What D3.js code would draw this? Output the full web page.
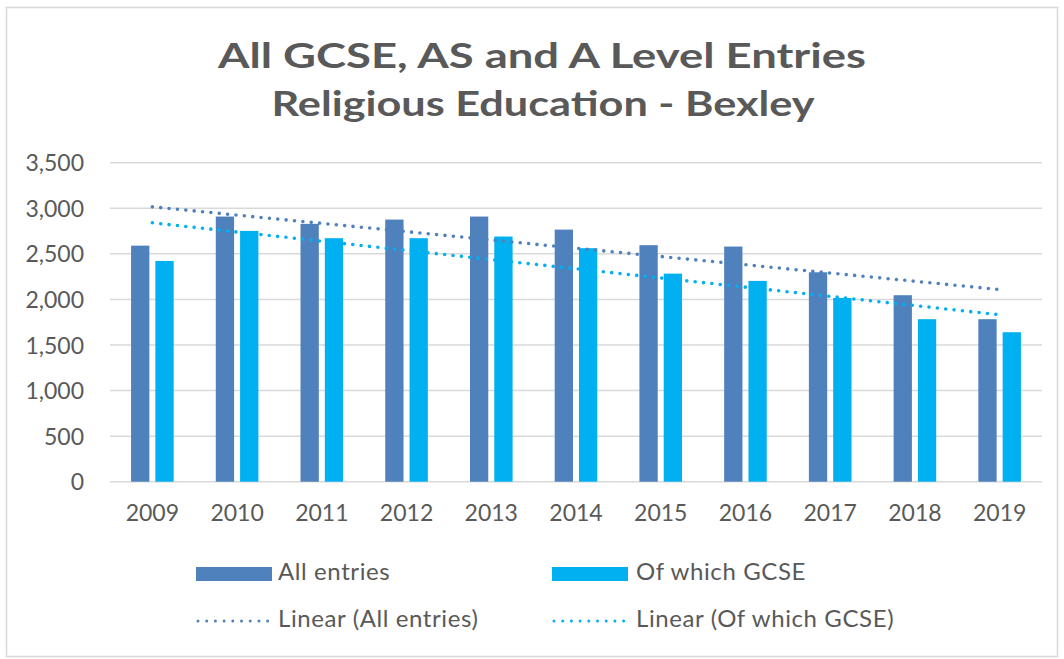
<!DOCTYPE html>
<html><head><meta charset="utf-8">
<script src="https://cdn.jsdelivr.net/npm/d3@7"></script>
<style>
html,body{margin:0;padding:0;background:#fff;}
svg text{font-family:Lato,"Open Sans",sans-serif;fill:#595959;}
</style></head>
<body><svg id="c" width="1064" height="659"></svg>
<script>
const years = ["2009","2010","2011","2012","2013","2014","2015","2016","2017","2018","2019"];
const allEntries = [2590,2909,2829,2876,2909,2766,2595,2580,2298,2046,1783];
const gcseEntries = [2422,2752,2672,2672,2690,2562,2283,2203,2016,1783,1640];
const yTicks = [0,500,1000,1500,2000,2500,3000,3500];
const seriesNames = ["All entries","Of which GCSE"];
const trendNames = ["Linear (All entries)","Linear (Of which GCSE)"];
const colors = ["#4F81BD","#00B0F0"];
const titleLines = ["All GCSE, AS and A Level Entries","Religious Education - Bexley"];

const svg = d3.select("#c");
svg.append("rect").attr("x",6.5).attr("y",7.5).attr("width",1051).attr("height",649)
  .attr("fill","#fff").attr("stroke","#D9D9D9").attr("stroke-width",1.5);

// title
svg.append("text").attr("x",542).attr("y",68).attr("text-anchor","middle")
  .attr("font-size",35).attr("font-weight",700)
  .attr("textLength",648).attr("lengthAdjust","spacingAndGlyphs").text(titleLines[0]);
svg.append("text").attr("x",543).attr("y",116).attr("text-anchor","middle")
  .attr("font-size",35).attr("font-weight",700)
  .attr("textLength",543).attr("lengthAdjust","spacingAndGlyphs").text(titleLines[1]);

const pLeft=110, pRight=1042, pTop=162.7, pBottom=481.7;
const x = d3.scaleBand().domain(years).range([pLeft,pRight]).padding(0);
const y = d3.scaleLinear().domain([0,3500]).range([pBottom,pTop]);

// gridlines
svg.append("g").selectAll("line").data(yTicks).join("line")
  .attr("x1",pLeft).attr("x2",pRight).attr("y1",d=>y(d)).attr("y2",d=>y(d))
  .attr("stroke","#D9D9D9").attr("stroke-width",1.5);

// y axis labels
const yAxis = d3.axisLeft(y).tickValues(yTicks).tickSize(0).tickPadding(0)
  .tickFormat(d3.format(","));
const yg = svg.append("g").attr("transform",`translate(84,0)`).call(yAxis);
yg.select(".domain").remove();
yg.selectAll("text").attr("font-size",23).attr("fill","#595959").attr("dy","0.35em")
  .style("font-family","Lato,sans-serif");

// x axis labels
const xAxis = d3.axisBottom(x).tickSize(0).tickPadding(0);
const xg = svg.append("g").attr("transform",`translate(0,505)`).call(xAxis);
xg.select(".domain").remove();
xg.selectAll("text").attr("font-size",23).attr("fill","#595959").attr("dy","0.71em")
  .style("font-family","Lato,sans-serif");

// bars
const bw = x.bandwidth()*0.216, gap = 6;
const sub = d3.scaleOrdinal().domain([0,1]).range([-gap/2-bw, gap/2]);
[allEntries,gcseEntries].forEach((vals,si)=>{
  svg.append("g").selectAll("rect").data(vals).join("rect")
    .attr("x",(d,i)=>x(years[i])+x.bandwidth()/2+sub(si))
    .attr("y",d=>y(d)).attr("width",bw).attr("height",d=>y(0)-y(d))
    .attr("fill",colors[si]);
});

// trend lines (least squares)
function linreg(vals){
  const n=vals.length, xs=d3.range(n), mx=d3.mean(xs), my=d3.mean(vals);
  const b=d3.sum(xs,(xi,i)=>(xi-mx)*(vals[i]-my))/d3.sum(xs,xi=>(xi-mx)**2);
  return xs.map(xi=>my+b*(xi-mx));
}
const line = d3.line().x((d,i)=>x(years[i])+x.bandwidth()/2).y(d=>y(d));
[allEntries,gcseEntries].forEach((vals,si)=>{
  svg.append("path").datum(linreg(vals)).attr("d",line).attr("fill","none")
    .attr("stroke",colors[si]).attr("stroke-width",3.6).attr("stroke-linecap","round")
    .attr("stroke-dasharray","0 8.4");
});

// legend
const lx=[196,552], tx=[278,636];
seriesNames.forEach((s,i)=>{
  svg.append("rect").attr("x",lx[i]).attr("y",567).attr("width",76).attr("height",14).attr("fill",colors[i]);
  svg.append("text").attr("x",tx[i]).attr("y",580).attr("font-size",24).attr("letter-spacing",0.6).text(s);
});
trendNames.forEach((s,i)=>{
  svg.append("line").attr("x1",lx[i]+2).attr("x2",lx[i]+72).attr("y1",621).attr("y2",621)
    .attr("stroke",colors[i]).attr("stroke-width",3).attr("stroke-linecap","round")
    .attr("stroke-dasharray","0 8.7");
  svg.append("text").attr("x",tx[i]).attr("y",627).attr("font-size",24).attr("letter-spacing",0.6).text(s);
});
</script></body></html>
